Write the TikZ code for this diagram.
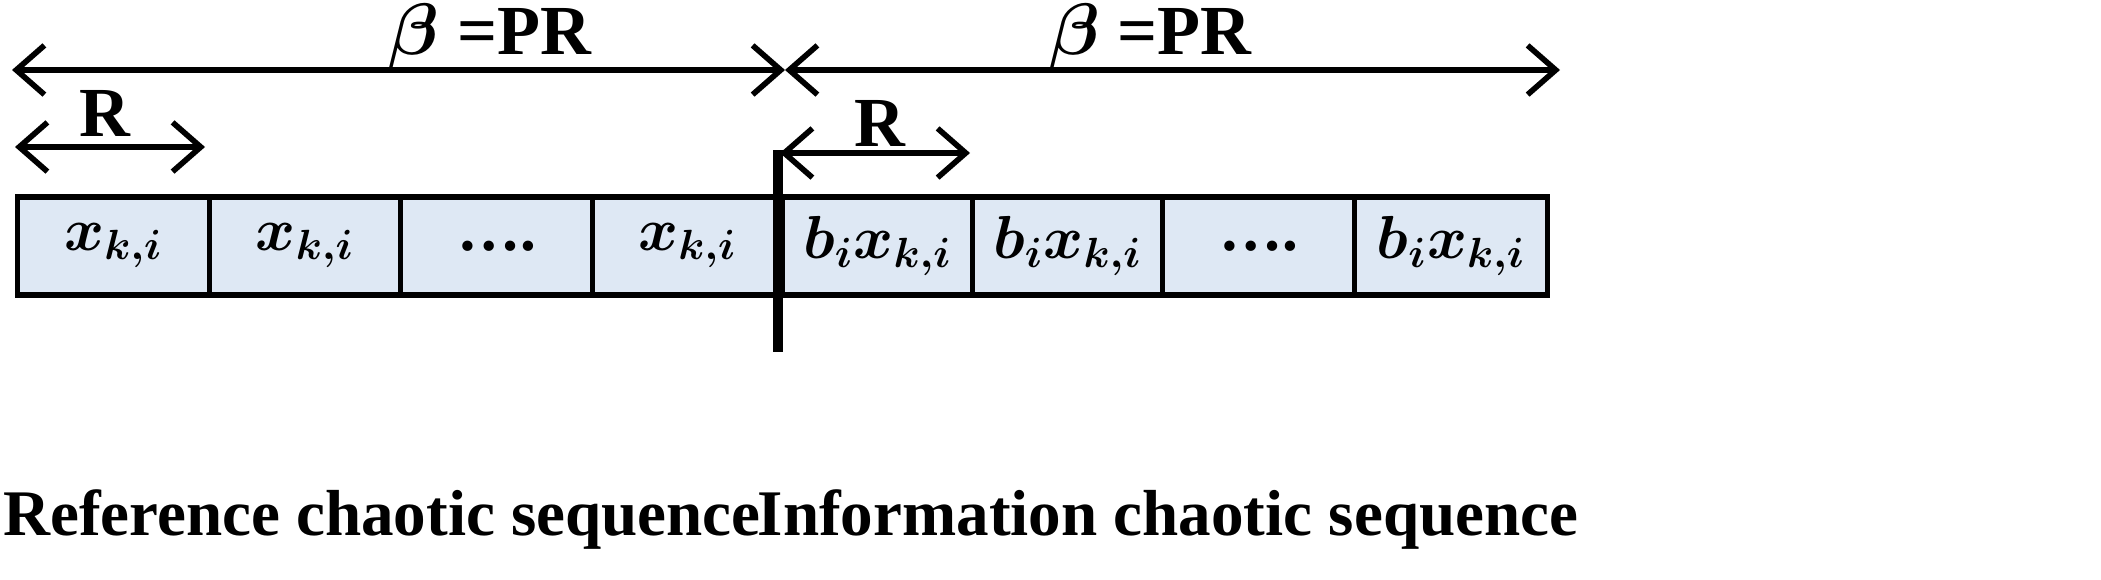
\documentclass[tikz,border=0pt]{standalone}
\usepackage{amsmath,amsbsy}
\usepackage{fontspec}
\setmainfont{Liberation Serif}
\usetikzlibrary{arrows.meta}
\definecolor{cellblue}{HTML}{DEE8F4}
\begin{document}
\begin{tikzpicture}[x=0.01cm,y=-0.01cm,
  cell/.style={draw,line width=1.5pt,fill=cellblue,minimum height=0.98cm,inner sep=0pt,anchor=west,font=\fontsize{18}{20}\selectfont},
  dim/.style={line width=1.6pt,{Straight Barb[length=8pt,width=14pt]}-{Straight Barb[length=8pt,width=14pt]}},
  lab/.style={font=\bfseries\fontsize{18.5}{22}\selectfont},
  big/.style={font=\bfseries\fontsize{20}{22}\selectfont}]
\useasboundingbox (0,0) rectangle (2101,579);
\node[cell,minimum width=1.92cm] (c1) at (15,246) {$\boldsymbol{x_{k,i}}$};
\node[cell,minimum width=1.91cm] (c2) at (207,246) {$\boldsymbol{x_{k,i}}$};
\node[cell,minimum width=1.92cm] (c3) at (398,246) {\textbf{\dots.}};
\node[cell,minimum width=1.90cm] (c4) at (590,246) {$\boldsymbol{x_{k,i}}$};
\node[cell,minimum width=1.90cm] (c5) at (780,246) {$\boldsymbol{b_i x_{k,i}}$};
\node[cell,minimum width=1.90cm] (c6) at (970,246) {$\boldsymbol{b_i x_{k,i}}$};
\node[cell,minimum width=1.92cm] (c7) at (1160,246) {\textbf{\dots.}};
\node[cell,minimum width=1.93cm] (c8) at (1352,246) {$\boldsymbol{b_i x_{k,i}}$};
\coordinate (t1) at (778,150); \coordinate (t2) at (778,352);
\draw[line width=3pt] (t1) -- (t2);
\coordinate (a1) at (12,70); \coordinate (a2) at (785,70); \coordinate (a3) at (1560,70);
\draw[dim] (a1) -- (a2); \draw[dim] (a2) -- (a3);
\node[big] (b1) at (490,36) {$\boldsymbol{\beta}$ =PR};
\node[big] (b2) at (1150,36) {$\boldsymbol{\beta}$ =PR};
\coordinate (r1) at (15,147); \coordinate (r2) at (205,147);
\coordinate (r3) at (780,153); \coordinate (r4) at (970,153);
\draw[dim] (r1) -- (r2); \draw[dim] (r3) -- (r4);
\node[big] (R1) at (105,113) {R};
\node[big] (R2) at (880,123) {R};
\node[lab] (L1) at (382,520) {Reference chaotic sequence};
\node[lab] (L2) at (1168,520) {Information chaotic sequence};
\end{tikzpicture}
\end{document}
